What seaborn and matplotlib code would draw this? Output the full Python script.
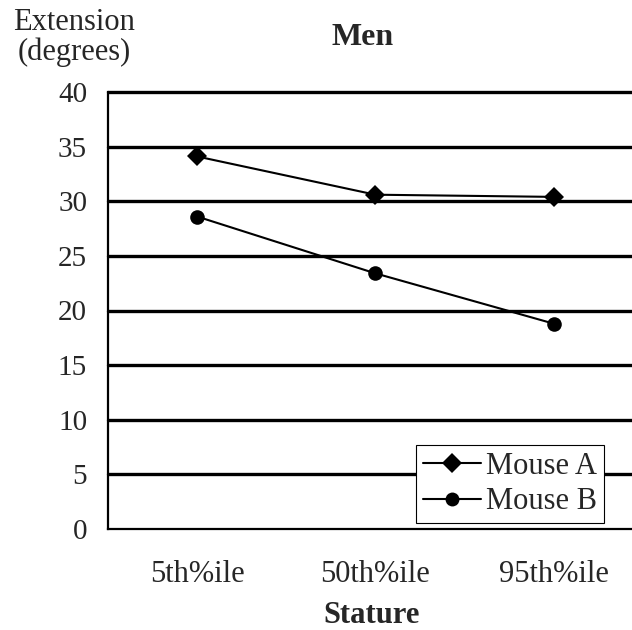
import matplotlib
matplotlib.use("Agg")
import matplotlib.pyplot as plt
import seaborn as sns
import pandas as pd
from matplotlib.ticker import FixedLocator

categories = ["5th%ile", "50th%ile", "95th%ile"]
mouse_a = [34.1, 30.6, 30.4]
mouse_b = [28.6, 23.4, 18.8]
series_names = ["Mouse A", "Mouse B"]
y_ticks = [0, 5, 10, 15, 20, 25, 30, 35, 40]

df = pd.DataFrame({
    "Stature": categories * 2,
    "Extension": mouse_a + mouse_b,
    "Series": [series_names[0]] * 3 + [series_names[1]] * 3,
})

sns.set_style("white")
plt.rcParams["font.family"] = ["Liberation Serif", "DejaVu Serif"]

fig = plt.figure(figsize=(6.32, 6.30), dpi=100)
ax = fig.add_axes([108 / 632, 1 - 529 / 630, 1 - 108 / 632, (529 - 92) / 630])

for y in y_ticks[1:]:
    ax.axhline(y, color="black", lw=2.4, zorder=1, clip_on=False)

sns.lineplot(data=df, x="Stature", y="Extension", hue="Series", style="Series",
             markers={"Mouse A": "D", "Mouse B": "o"}, dashes=False,
             palette={"Mouse A": "black", "Mouse B": "black"},
             markersize=10.5, lw=1.5, markeredgewidth=0, ax=ax, zorder=3)

ax.set_xlim(-0.5, 2.44)
ax.set_ylim(0, 40)
ax.set_yticks(y_ticks)
ax.tick_params(axis="y", labelsize=21, length=6, width=1, color="gray", direction="out", pad=9)
ax.tick_params(axis="x", which="major", labelsize=22, length=0, pad=22)
ax.xaxis.set_minor_locator(FixedLocator([-0.5, 0.5, 1.5]))
ax.tick_params(axis="x", which="minor", length=5, width=1, color="gray", direction="out")
ax.set_xlabel("")
ax.set_ylabel("")
for s in ["top", "right"]:
    ax.spines[s].set_visible(False)
for s in ["left", "bottom"]:
    ax.spines[s].set_color("black")
    ax.spines[s].set_linewidth(1.6)

leg = ax.legend(loc="lower right", bbox_to_anchor=(0.9467, 0.0137), fontsize=22,
                frameon=True, fancybox=False, handlelength=1.9, handletextpad=0.18,
                borderpad=0.22, labelspacing=0.22, borderaxespad=0)
leg.get_frame().set_edgecolor("black")
leg.get_frame().set_linewidth(0.8)
leg.get_frame().set_alpha(1)
for h in leg.legend_handles:
    h.set_markersize(10)
    h.set_linewidth(1.5)
    h.set_color("black")

fig.text(363 / 632, 1 - 45 / 630, "Men", ha="center", va="baseline", fontsize=23, fontweight="bold")
fig.text(74 / 632, 1 - 30 / 630, "Extension", ha="center", va="baseline", fontsize=22)
fig.text(74 / 632, 1 - 60 / 630, "(degrees)", ha="center", va="baseline", fontsize=22)
fig.text(372 / 632, 1 - 623 / 630, "Stature", ha="center", va="baseline", fontsize=22, fontweight="bold")

fig.savefig("out.png", dpi=100)
